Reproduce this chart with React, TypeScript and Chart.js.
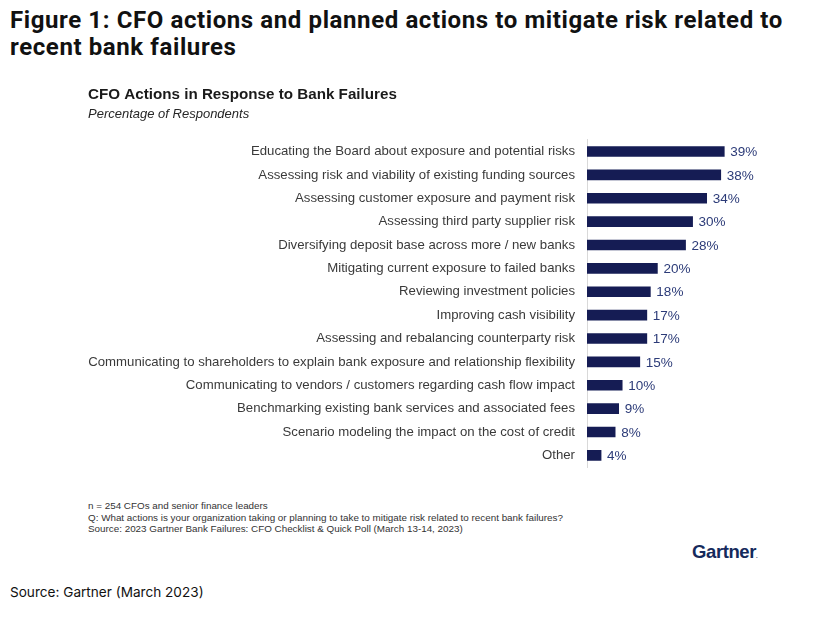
import React, { useEffect, useRef } from "react";
import { Chart, registerables } from "chart.js";

Chart.register(...registerables);

const categories: string[] = [
  "Educating the Board about exposure and potential risks",
  "Assessing risk and viability of existing funding sources",
  "Assessing customer exposure and payment risk",
  "Assessing third party supplier risk",
  "Diversifying deposit base across more / new banks",
  "Mitigating current exposure to failed banks",
  "Reviewing investment policies",
  "Improving cash visibility",
  "Assessing and rebalancing counterparty risk",
  "Communicating to shareholders to explain bank exposure and relationship flexibility",
  "Communicating to vendors / customers regarding cash flow impact",
  "Benchmarking existing bank services and associated fees",
  "Scenario modeling the impact on the cost of credit",
  "Other",
];

const values: number[] = [39, 38, 34, 30, 28, 20, 18, 17, 17, 15, 10, 9, 8, 4];

const chartTitle = "CFO Actions in Response to Bank Failures";
const chartSubtitle = "Percentage of Respondents";
const footnotes: string[] = [
  "n = 254 CFOs and senior finance leaders",
  "Q: What actions is your organization taking or planning to take to mitigate risk related to recent bank failures?",
  "Source: 2023 Gartner Bank Failures: CFO Checklist & Quick Poll (March 13-14, 2023)",
];

const valueLabelPlugin = {
  id: "valueLabels",
  afterDatasetsDraw(chart: any) {
    const { ctx } = chart;
    const meta = chart.getDatasetMeta(0);
    ctx.save();
    ctx.font = "13.5px 'Liberation Sans', Arial, sans-serif";
    ctx.fillStyle = "#2c3b78";
    ctx.textAlign = "left";
    ctx.textBaseline = "middle";
    meta.data.forEach((bar: any, i: number) => {
      ctx.fillText(values[i] + "%", bar.x + 6, bar.y + 1);
    });
    ctx.restore();
  },
};

function BarChart() {
  const ref = useRef<HTMLCanvasElement | null>(null);
  useEffect(() => {
    if (!ref.current) return;
    const chart = new Chart(ref.current, {
      type: "bar",
      data: {
        labels: categories,
        datasets: [
          {
            data: values,
            backgroundColor: "#151c54",
            barThickness: 10,
          },
        ],
      },
      options: {
        indexAxis: "y",
        animation: false,
        responsive: false,
        maintainAspectRatio: false,
        layout: { padding: { left: 0, right: 52, top: 0, bottom: 4 } },
        plugins: {
          legend: { display: false },
          tooltip: { enabled: false },
          title: {
            display: true,
            text: chartTitle,
            align: "start",
            color: "#1a1a1a",
            font: { family: "'Liberation Sans', Arial, sans-serif", size: 15.2, weight: "bold" },
            padding: { top: 0, bottom: 0 },
          },
          subtitle: {
            display: true,
            text: chartSubtitle,
            align: "start",
            color: "#262626",
            font: { family: "'Liberation Sans', Arial, sans-serif", size: 13, style: "italic" },
            padding: { top: 2, bottom: 18 },
          },
        },
        scales: {
          x: {
            display: false,
            min: 0,
            max: 50,
          },
          y: {
            afterFit(scale: any) {
              scale.width = 499;
            },
            grid: { display: false, drawTicks: false },
            border: { display: true, color: "#d9d9d9", width: 1 },
            ticks: {
              color: "#3a3a3a",
              padding: 12,
              autoSkip: false,
              font: { family: "'Liberation Sans', Arial, sans-serif", size: 13.2 },
            },
          },
        },
      },
      plugins: [valueLabelPlugin],
    } as any);
    return () => chart.destroy();
  }, []);
  return <canvas ref={ref} width={727} height={401} style={{ position: "absolute", left: 88, top: 86, width: 727, height: 401 }} />;
}

export default function App() {
  return (
    <div style={{ position: "absolute", left: 0, top: 0, width: 827, height: 626, background: "#fff", overflow: "hidden" }}>
      <div
        style={{
          position: "absolute",
          left: 10,
          top: 7,
          width: 815,
          fontFamily: "Roboto, 'Noto Sans', sans-serif",
          fontWeight: 700,
          fontSize: 24,
          lineHeight: "27px",
          letterSpacing: "0.6px",
          color: "#111",
          whiteSpace: "nowrap",
        }}
      >
        Figure 1: CFO actions and planned actions to mitigate risk related to
        <br />
        recent bank failures
      </div>
      <BarChart />
      <div
        style={{
          position: "absolute",
          left: 88,
          top: 500,
          fontFamily: "'Liberation Sans', Arial, sans-serif",
          fontSize: 9.85,
          lineHeight: "11.7px",
          color: "#333",
          whiteSpace: "nowrap",
        }}
      >
        {footnotes.map((t, i) => (
          <div key={i}>{t}</div>
        ))}
      </div>
      <div
        style={{
          position: "absolute",
          left: 692,
          top: 541,
          fontFamily: "'Liberation Sans', Arial, sans-serif",
          fontWeight: "bold",
          fontSize: 18.5,
          letterSpacing: "-0.4px",
          color: "#152a5c",
          whiteSpace: "nowrap",
        }}
      >
        Gartner<span style={{ fontSize: 6 }}>.</span>
      </div>
      <div
        style={{
          position: "absolute",
          left: 10,
          top: 584,
          fontFamily: "Inter, 'Open Sans', sans-serif",
          fontSize: 13.6,
          color: "#111",
          whiteSpace: "nowrap",
        }}
      >
        Source: Gartner (March 2023)
      </div>
    </div>
  );
}
